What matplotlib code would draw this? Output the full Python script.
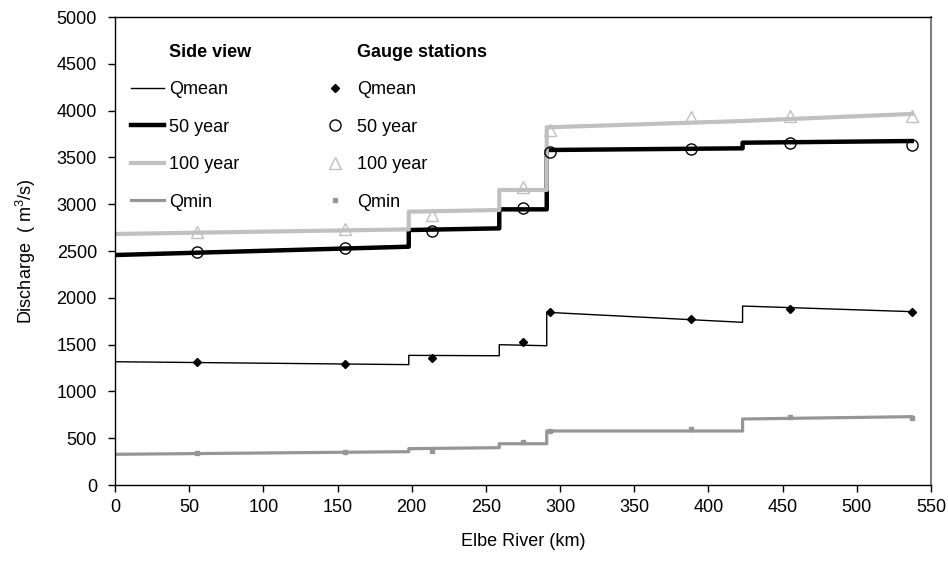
import matplotlib
matplotlib.use("Agg")
import matplotlib.pyplot as plt
from matplotlib.lines import Line2D

plt.rcParams['font.family'] = ['Liberation Sans', 'DejaVu Sans']
plt.rcParams['mathtext.fontset'] = 'custom'
plt.rcParams['mathtext.rm'] = 'Liberation Sans'
plt.rcParams['mathtext.it'] = 'Liberation Sans'

# Side view (step profiles along the river)
side_km = [0, 198, 198, 259, 259, 291, 291, 423, 423, 537]
side_qmean = [1317, 1286, 1385, 1381, 1499, 1488, 1845, 1738, 1912, 1852]
side_50yr = [2457, 2546, 2724, 2742, 2945, 2945, 3579, 3597, 3657, 3675]
side_100yr = [2682, 2731, 2920, 2938, 3152, 3152, 3821, 3889, 3889, 3964]
side_qmin = [328, 356, 388, 399, 441, 441, 577, 577, 705, 730]

# Gauge stations
gauge_km = [55, 155, 214, 275, 293, 388, 455, 537]
gauge_qmean = [1311, 1289, 1360, 1528, 1845, 1770, 1884, 1852]
gauge_50yr = [2493, 2535, 2714, 2963, 3561, 3586, 3657, 3632]
gauge_100yr = [2706, 2731, 2885, 3187, 3793, 3928, 3942, 3942]
gauge_qmin = [338, 349, 363, 456, 577, 595, 730, 715]

xticks = [0, 50, 100, 150, 200, 250, 300, 350, 400, 450, 500, 550]
yticks = [0, 500, 1000, 1500, 2000, 2500, 3000, 3500, 4000, 4500, 5000]

C100 = '#c0c0c0'
CMIN = '#969696'

fig = plt.figure(figsize=(9.48, 5.65), dpi=100)
ax = fig.add_axes([115/948, 80/565, 816/948, 468/565])

ax.plot(side_km, side_qmin, color=CMIN, lw=2.3, zorder=2)
ax.plot(side_km, side_qmean, color='black', lw=1.0, zorder=2)
ax.plot(side_km, side_50yr, color='black', lw=3.2, zorder=2)
ax.plot(side_km, side_100yr, color=C100, lw=3.0, zorder=2)

ax.plot(gauge_km, gauge_qmean, ls='none', marker='D', ms=4.5, color='black', zorder=4)
ax.plot(gauge_km, gauge_50yr, ls='none', marker='o', ms=8, mfc='none', mec='black', mew=1.0, zorder=4)
ax.plot(gauge_km, gauge_100yr, ls='none', marker='^', ms=8.5, mfc='none', mec=C100, mew=1.0, zorder=4)
ax.plot(gauge_km, gauge_qmin, ls='none', marker='s', ms=3.5, color=CMIN, zorder=4)

ax.set_xlim(0, 550)
ax.set_ylim(0, 5000)
ax.set_xticks(xticks)
ax.set_yticks(yticks)
ax.tick_params(axis='both', direction='out', length=5, width=1, labelsize=13, colors='black')
ax.tick_params(axis='x', pad=5)
ax.tick_params(axis='y', pad=8)
for s in ['left', 'bottom', 'top']:
    ax.spines[s].set_color('black')
    ax.spines[s].set_linewidth(1.0)
ax.spines['right'].set_color('#808080')
ax.spines['right'].set_linewidth(1.5)

ax.set_xlabel('Elbe River (km)', fontsize=13)
ax.set_ylabel('Discharge  ( m$^3$/s)', fontsize=13)
ax.xaxis.set_label_coords(0.5, -0.103)
ax.yaxis.set_label_coords(-0.094, 0.5)

blank = Line2D([], [], color='none')
h1 = [blank,
      Line2D([], [], color='black', lw=1.0),
      Line2D([], [], color='black', lw=3.2),
      Line2D([], [], color=C100, lw=3.0),
      Line2D([], [], color=CMIN, lw=2.3)]
l1 = ['Side view', 'Qmean', '50 year', '100 year', 'Qmin']
h2 = [blank,
      Line2D([], [], ls='none', marker='D', ms=4.5, color='black'),
      Line2D([], [], ls='none', marker='o', ms=8, mfc='none', mec='black', mew=1.0),
      Line2D([], [], ls='none', marker='^', ms=8.5, mfc='none', mec=C100, mew=1.0),
      Line2D([], [], ls='none', marker='s', ms=3.5, color=CMIN)]
l2 = ['Gauge stations', 'Qmean', '50 year', '100 year', 'Qmin']

kw = dict(loc='upper left', frameon=False, fontsize=13, handlelength=1.8,
          handletextpad=0.3, labelspacing=1.13, borderpad=0, borderaxespad=0)
leg1 = ax.legend(h1, l1, bbox_to_anchor=(16/816, (485-44)/468), **kw)
leg1.get_texts()[0].set_fontweight('bold')
ax.add_artist(leg1)
leg2 = ax.legend(h2, l2, bbox_to_anchor=(204/816, (485-44)/468), **kw)
leg2.get_texts()[0].set_fontweight('bold')

fig.savefig('out.png', dpi=100)
